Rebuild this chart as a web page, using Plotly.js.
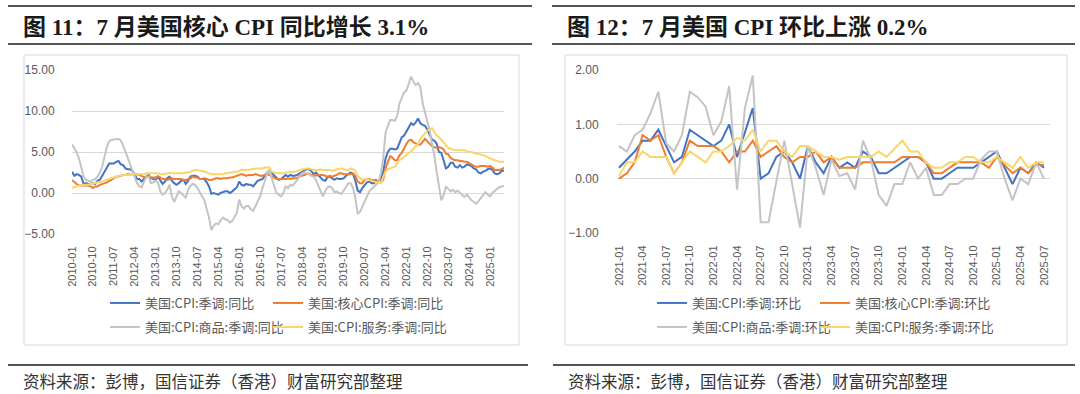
<!DOCTYPE html>
<html><head><meta charset="utf-8">
<script src="https://cdn.plot.ly/plotly-3.0.1.min.js"></script>
<style>html,body{margin:0;padding:0;background:#fff;}#chart{width:1080px;height:394px;}</style>
</head><body><div id="chart"></div>
<script>
function monthRange(y0, m0, y1, m1) {
  const out = [];
  let y = y0, m = m0;
  while (y < y1 || (y === y1 && m <= m1)) {
    out.push(y + '-' + (m < 10 ? '0' + m : '' + m));
    m++; if (m > 12) { m = 1; y++; }
  }
  return out;
}
// ---------- Figure 11 data (monthly, 2010-01 .. 2025-07) ----------
const monthsYoY = monthRange(2010, 1, 2025, 7);
const cpiYoY = [
 2.6,2.1,2.3,2.2,2.0,1.1,1.2,1.1,1.1,1.2,1.1,1.5,
 1.6,2.1,2.7,3.2,3.6,3.6,3.6,3.8,3.9,3.5,3.4,3.0,
 2.9,2.9,2.7,2.3,1.7,1.7,1.4,1.7,2.0,2.2,1.8,1.7,
 1.6,2.0,1.5,1.1,1.4,1.8,2.0,1.5,1.2,1.0,1.2,1.5,
 1.6,1.1,1.5,2.0,2.1,2.1,2.0,1.7,1.7,1.7,1.3,0.8,
 -0.1,0.0,-0.1,-0.2,0.0,0.1,0.2,0.2,0.0,0.2,0.5,0.7,
 1.4,1.0,0.9,1.1,1.0,1.0,0.8,1.1,1.5,1.6,1.7,2.1,
 2.5,2.7,2.4,2.2,1.9,1.6,1.7,1.9,2.2,2.0,2.2,2.1,
 2.1,2.2,2.4,2.5,2.8,2.9,2.9,2.7,2.3,2.5,2.2,1.9,
 1.6,1.5,1.9,2.0,1.8,1.6,1.8,1.7,1.7,1.8,2.1,2.3,
 2.5,2.3,1.5,0.3,0.1,0.6,1.0,1.3,1.4,1.2,1.2,1.4,
 1.4,1.7,2.6,4.2,5.0,5.4,5.4,5.3,5.4,6.2,6.8,7.0,
 7.5,7.9,8.5,8.3,8.6,9.1,8.5,8.3,8.2,7.7,7.1,6.5,
 6.4,6.0,5.0,4.9,4.0,3.0,3.2,3.7,3.7,3.2,3.1,3.4,
 3.1,3.2,3.5,3.4,3.3,3.0,2.9,2.5,2.4,2.6,2.7,2.9,
 3.0,2.8,2.4,2.3,2.4,2.7,2.7];
const coreYoY = [
 1.6,1.3,1.1,0.9,0.9,0.9,0.9,0.9,0.8,0.6,0.8,0.8,
 1.0,1.1,1.2,1.3,1.5,1.6,1.8,2.0,2.0,2.1,2.2,2.2,
 2.3,2.2,2.3,2.3,2.3,2.2,2.1,1.9,2.0,2.0,1.9,1.9,
 1.9,2.0,1.9,1.7,1.7,1.6,1.7,1.8,1.7,1.7,1.7,1.7,
 1.6,1.6,1.7,1.8,2.0,1.9,1.9,1.7,1.7,1.8,1.7,1.6,
 1.6,1.7,1.8,1.8,1.7,1.8,1.8,1.8,1.9,1.9,2.0,2.1,
 2.2,2.3,2.2,2.1,2.2,2.2,2.2,2.3,2.2,2.1,2.1,2.2,
 2.3,2.2,2.0,1.9,1.7,1.7,1.7,1.7,1.7,1.8,1.7,1.8,
 1.8,1.8,2.1,2.1,2.2,2.3,2.4,2.2,2.2,2.1,2.2,2.2,
 2.2,2.1,2.0,2.1,2.0,2.1,2.2,2.4,2.4,2.3,2.3,2.3,
 2.3,2.4,2.1,1.4,1.2,1.2,1.6,1.7,1.7,1.6,1.6,1.6,
 1.4,1.3,1.6,3.0,3.8,4.5,4.3,4.0,4.0,4.6,4.9,5.5,
 6.0,6.4,6.5,6.2,6.0,5.9,5.9,6.3,6.6,6.3,6.0,5.7,
 5.6,5.5,5.6,5.5,5.3,4.8,4.7,4.3,4.1,4.0,4.0,3.9,
 3.9,3.8,3.8,3.6,3.4,3.3,3.2,3.2,3.3,3.3,3.3,3.2,
 3.3,3.1,2.8,2.8,2.8,2.9,3.1];
const goodsYoY = [
 5.9,5.4,5.0,4.2,3.2,2.0,1.6,1.5,1.4,1.6,1.7,2.0,
 2.5,3.2,4.6,5.6,6.3,6.5,6.5,6.6,6.6,6.4,5.8,5.0,
 4.4,3.6,2.6,1.8,1.2,0.8,0.7,1.4,1.9,2.0,1.2,1.3,
 1.5,1.3,0.2,-0.2,0.0,0.4,1.0,-0.4,-1.1,-0.4,0.2,0.0,
 -0.3,-0.6,0.4,0.9,1.1,1.0,0.6,0.0,-0.4,-0.9,-1.8,-3.0,
 -4.5,-4.0,-3.7,-3.8,-3.3,-3.0,-3.2,-3.3,-3.6,-3.4,-2.9,-2.4,
 -0.8,-1.6,-1.9,-1.6,-1.6,-2.0,-2.2,-1.6,-0.9,-0.4,0.6,1.4,
 2.5,2.8,1.8,1.0,0.0,-0.2,-0.4,0.0,0.8,0.6,1.0,0.9,
 1.2,1.6,2.0,2.4,2.5,2.4,2.3,2.1,2.0,1.6,1.0,0.2,
 -0.4,0.2,0.7,0.8,0.6,0.1,0.2,0.0,-0.1,0.3,0.8,1.2,
 1.2,0.6,-0.6,-2.5,-2.3,-1.7,-1.0,-0.4,0.2,0.5,0.8,1.1,
 1.3,2.5,4.2,7.4,8.3,8.9,8.9,8.8,9.4,10.9,11.6,12.3,
 12.5,13.3,14.2,13.6,13.2,13.4,12.9,10.9,9.8,8.8,7.6,6.0,
 4.6,2.6,0.9,-0.9,-0.3,0.8,0.5,0.2,0.4,0.1,0.3,0.0,
 -0.3,-0.5,-0.2,-0.6,-0.9,-1.1,-1.3,-1.0,-0.6,-0.2,0.1,-0.2,
 -0.4,0.0,0.3,0.5,0.7,0.8,0.9];
const servicesYoY = [
 0.6,0.7,0.8,0.9,0.9,1.0,1.0,1.0,1.1,1.2,1.2,1.3,
 1.3,1.4,1.5,1.6,1.7,1.8,1.9,2.0,2.1,2.1,2.2,2.2,
 2.2,2.2,2.3,2.3,2.3,2.3,2.3,2.3,2.4,2.4,2.4,2.4,
 2.4,2.4,2.3,2.3,2.3,2.4,2.5,2.4,2.4,2.4,2.4,2.4,
 2.4,2.5,2.5,2.6,2.7,2.8,2.8,2.7,2.7,2.6,2.5,2.4,
 2.3,2.3,2.3,2.3,2.3,2.3,2.4,2.4,2.5,2.5,2.6,2.6,
 2.7,2.8,2.8,2.8,2.8,2.9,2.9,3.0,3.0,3.0,3.0,3.1,
 3.1,3.1,2.6,2.5,2.4,2.4,2.4,2.4,2.5,2.5,2.6,2.5,
 2.6,2.7,2.8,2.9,2.9,3.0,3.0,2.9,2.8,2.8,2.8,2.9,
 2.8,2.8,2.8,2.8,2.7,2.8,2.9,2.9,3.0,2.9,2.8,2.8,
 3.0,2.9,2.7,2.1,1.8,1.6,1.7,1.7,1.6,1.5,1.4,1.3,
 1.3,1.2,2.0,2.6,2.9,3.0,3.1,3.2,3.6,4.0,4.2,4.4,
 4.6,4.9,5.1,5.4,5.7,6.0,6.6,7.0,7.3,7.6,7.7,7.9,
 7.4,7.0,6.8,6.5,6.1,5.8,5.5,5.4,5.3,5.2,5.2,5.2,
 5.2,5.2,5.1,5.0,5.0,4.9,4.8,4.8,4.7,4.6,4.5,4.4,
 4.2,4.1,4.0,3.9,3.8,3.8,3.8];
const tickYoY = monthsYoY.filter((m, i) => i % 9 === 0);

// ---------- Figure 12 data (monthly, 2021-01 .. 2025-07) ----------
const monthsMoM = monthRange(2021, 1, 2025, 7);
const cpiMoM = [0.2,0.35,0.5,0.7,0.7,0.9,0.6,0.3,0.4,0.9,0.8,0.7,
 0.6,0.7,1.0,0.4,0.85,1.3,0.0,0.1,0.4,0.5,0.3,0.0,
 0.6,0.3,0.1,0.4,0.2,0.3,0.2,0.5,0.4,0.1,0.1,0.2,
 0.3,0.4,0.4,0.3,0.0,0.0,0.1,0.2,0.2,0.2,0.3,0.4,
 0.5,0.2,-0.1,0.2,0.1,0.3,0.2];
const coreMoM = [0.0,0.1,0.3,0.8,0.7,0.8,0.4,0.1,0.3,0.7,0.6,0.6,
 0.6,0.5,0.3,0.5,0.5,0.7,0.4,0.5,0.6,0.4,0.3,0.4,
 0.4,0.5,0.3,0.4,0.2,0.2,0.2,0.3,0.3,0.3,0.3,0.3,
 0.4,0.4,0.4,0.3,0.1,0.1,0.2,0.3,0.3,0.3,0.3,0.2,
 0.4,0.25,0.1,0.2,0.1,0.25,0.25];
const goodsMoM = [0.6,0.5,0.8,0.9,1.2,1.6,0.65,0.5,0.8,1.6,1.5,1.33,
 0.8,1.05,1.7,-0.2,1.3,1.9,-0.8,-0.8,-0.05,0.7,-0.1,-0.9,
 0.6,0.2,-0.3,0.35,0.05,0.1,-0.2,0.7,0.35,-0.3,-0.5,-0.1,
 -0.1,0.3,0.0,0.2,-0.3,-0.3,-0.1,-0.1,0.0,0.0,0.35,0.5,
 0.5,0.0,-0.4,0.0,-0.1,0.3,0.0];
const servicesMoM = [0.05,0.3,0.3,0.5,0.4,0.4,0.4,0.1,0.3,0.5,0.4,0.3,
 0.5,0.5,0.6,0.75,0.7,0.9,0.5,0.7,0.7,0.5,0.4,0.6,
 0.6,0.5,0.4,0.4,0.35,0.4,0.4,0.4,0.4,0.5,0.4,0.55,
 0.7,0.5,0.5,0.3,0.2,0.2,0.3,0.3,0.4,0.4,0.3,0.3,
 0.4,0.3,0.2,0.4,0.2,0.3,0.3];
const tickMoM = monthsMoM.filter((m, i) => i % 3 === 0);

const namesYoY = ['美国:CPI:季调:同比','美国:核心CPI:季调:同比','美国:CPI:商品:季调:同比','美国:CPI:服务:季调:同比'];
const namesMoM = ['美国:CPI:季调:环比','美国:核心CPI:季调:环比','美国:CPI:商品:季调:环比','美国:CPI:服务:季调:环比'];
const titles = ['图 11：7 月美国核心 CPI 同比增长 3.1%', '图 12：7 月美国 CPI 环比上涨 0.2%'];
const sourceText = '资料来源：彭博，国信证券（香港）财富研究部整理';

// ---------- styling ----------
const W = 1080, H = 394;
const px = v => v / W, py = v => 1 - v / H;
const colors = ['#4472C4', '#ED7D31', '#C4C4C4', '#FAD56A'];
const SANS = 'Liberation Sans, Arial, sans-serif';
const CJK = 'Noto Sans CJK SC, sans-serif';

// one legend per entry, placed like the reference (2 x 2 grid under each chart)
const legPosL = [[105, 303], [268, 303], [105, 327], [268, 327]];
const legPosR = [[652, 303], [815, 303], [652, 327], [815, 327]];

const traces = [];
[cpiYoY, coreYoY, goodsYoY, servicesYoY].forEach((ys, k) => {
  traces.push({type: 'scatter', mode: 'lines', x: monthsYoY, y: ys, name: namesYoY[k],
    xaxis: 'x', yaxis: 'y', legend: k === 0 ? 'legend' : 'legend' + (k + 1),
    line: {color: colors[k], width: 2}});
});
[cpiMoM, coreMoM, goodsMoM, servicesMoM].forEach((ys, k) => {
  traces.push({type: 'scatter', mode: 'lines', x: monthsMoM, y: ys, name: namesMoM[k],
    xaxis: 'x2', yaxis: 'y2', legend: 'legend' + (k + 5),
    line: {color: colors[k], width: 2}});
});

const xBase = {type: 'category', showgrid: false, zeroline: false, showline: false,
  tickmode: 'array', tickangle: -90, ticks: 'outside', ticklen: 7, tickcolor: 'rgba(0,0,0,0)',
  tickfont: {family: SANS, size: 11, color: '#595959'}, fixedrange: true};
const yBase = {showgrid: true, gridcolor: '#D9D9D9', gridwidth: 1, zeroline: false, showline: false,
  tickformat: '.2f', ticks: 'outside', tickcolor: 'rgba(0,0,0,0)',
  tickfont: {family: SANS, size: 12, color: '#595959'}, fixedrange: true};
// tick marks sitting on the zero line (category axis crossing at 0)
const zeroTicks = {type: 'linear', anchor: 'free', showgrid: false, zeroline: false, showline: false,
  showticklabels: false, ticks: 'outside', ticklen: 4, tickwidth: 1, tickcolor: '#D0D0D0', tickmode: 'array', fixedrange: true};

const legBase = {orientation: 'h', xanchor: 'left', yanchor: 'middle', bgcolor: 'rgba(0,0,0,0)',
  borderwidth: 0, itemwidth: 30,
  font: {family: CJK, size: 13, color: '#595959'}, itemclick: false, itemdoubleclick: false};

const layout = {
  width: W, height: H, margin: {l: 0, r: 0, t: 0, b: 0}, paper_bgcolor: '#fff', plot_bgcolor: 'rgba(0,0,0,0)',
  hovermode: false, showlegend: true,
  xaxis: Object.assign({}, xBase, {domain: [px(72), px(504)], anchor: 'y', range: [0, monthsYoY.length - 1],
    tickvals: tickYoY, ticktext: tickYoY}),
  yaxis: Object.assign({}, yBase, {domain: [1 - 234 / H, 1 - 70 / H], anchor: 'x', range: [-5, 15], dtick: 5, ticklen: 14}),
  xaxis2: Object.assign({}, xBase, {domain: [px(617), px(1050)], anchor: 'y2', range: [-0.25, monthsMoM.length - 1 + 0.76],
    tickvals: tickMoM, ticktext: tickMoM}),
  yaxis2: Object.assign({}, yBase, {domain: [1 - 233 / H, 1 - 70 / H], anchor: 'x2', range: [-1, 2], dtick: 1, ticklen: 15}),
  xaxis3: Object.assign({}, zeroTicks, {overlaying: 'x', domain: [px(72), px(504)], position: 1 - 193 / H,
    range: [0, monthsYoY.length - 1], tickvals: tickYoY.map(t => monthsYoY.indexOf(t))}),
  xaxis4: Object.assign({}, zeroTicks, {overlaying: 'x2', domain: [px(617), px(1050)], position: 1 - 179 / H,
    range: [-0.25, monthsMoM.length - 1 + 0.76], tickvals: tickMoM.map(t => monthsMoM.indexOf(t))}),
  shapes: [
    // heading rules
    {type: 'line', xref: 'paper', yref: 'paper', x0: px(8), x1: px(532), y0: py(6), y1: py(6), line: {color: '#555', width: 2}},
    {type: 'line', xref: 'paper', yref: 'paper', x0: px(8), x1: px(532), y0: py(44), y1: py(44), line: {color: '#555', width: 2}},
    {type: 'line', xref: 'paper', yref: 'paper', x0: px(552), x1: px(1075), y0: py(6), y1: py(6), line: {color: '#555', width: 2}},
    {type: 'line', xref: 'paper', yref: 'paper', x0: px(552), x1: px(1075), y0: py(44), y1: py(44), line: {color: '#555', width: 2}},
    // footer rules
    {type: 'line', xref: 'paper', yref: 'paper', x0: px(8), x1: px(528), y0: py(365), y1: py(365), line: {color: '#555', width: 2}},
    {type: 'line', xref: 'paper', yref: 'paper', x0: px(553), x1: px(1075), y0: py(365), y1: py(365), line: {color: '#555', width: 2}},
    // chart area borders
    {type: 'rect', xref: 'paper', yref: 'paper', x0: px(24), x1: px(519), y0: py(55), y1: py(345), line: {color: '#D9D9D9', width: 1}},
    {type: 'rect', xref: 'paper', yref: 'paper', x0: px(565), x1: px(1067), y0: py(55), y1: py(345), line: {color: '#D9D9D9', width: 1}}
  ],
  annotations: [
    {xref: 'paper', yref: 'paper', x: px(21), y: py(28), xanchor: 'left', yanchor: 'middle', showarrow: false,
      text: titles[0], font: {family: 'Liberation Serif, Noto Sans CJK SC, serif', size: 23, weight: 'bold', color: '#1a1a1a'}},
    {xref: 'paper', yref: 'paper', x: px(565), y: py(28), xanchor: 'left', yanchor: 'middle', showarrow: false,
      text: titles[1], font: {family: 'Liberation Serif, Noto Sans CJK SC, serif', size: 23, weight: 'bold', color: '#1a1a1a'}},
    {xref: 'paper', yref: 'paper', x: px(21), y: py(381), xanchor: 'left', yanchor: 'middle', showarrow: false,
      text: sourceText, font: {family: CJK, size: 16.5, color: '#333'}},
    {xref: 'paper', yref: 'paper', x: px(566), y: py(381), xanchor: 'left', yanchor: 'middle', showarrow: false,
      text: sourceText, font: {family: CJK, size: 16.5, color: '#333'}}
  ]
};
legPosL.concat(legPosR).forEach((p, k) => {
  layout[k === 0 ? 'legend' : 'legend' + (k + 1)] = Object.assign({}, legBase, {x: px(p[0]), y: py(p[1])});
});

Plotly.newPlot('chart', traces, layout, {staticPlot: true, displayModeBar: false});
</script>
</body></html>
